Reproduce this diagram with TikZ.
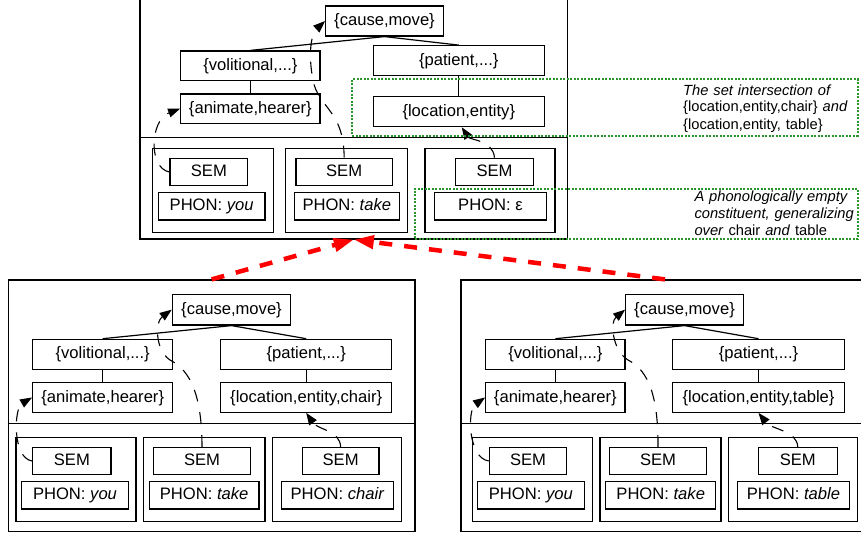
\documentclass[tikz,border=0pt]{standalone}
\usepackage{fontspec}
\setmainfont{Liberation Sans}
\usetikzlibrary{arrows.meta}
\definecolor{dotgreen}{RGB}{40,150,40}
\definecolor{arrowred}{RGB}{255,0,0}
\tikzset{
  bx/.style={draw=black, line width=1.2pt, inner sep=0pt, font=\fontsize{16.6}{20}\selectfont, text height=12.8pt, text depth=3.6pt},
  cont/.style={draw=black, line width=1.2pt, inner sep=0pt},
  treeedge/.style={draw=black, line width=1.2pt},
  link/.style={draw=black, line width=1.1pt, dash pattern=on 12pt off 11pt, -{Triangle[length=12pt,width=9pt]}},
  greenbox/.style={draw=dotgreen, line width=2pt, dash pattern=on 2pt off 1.5pt, inner sep=0pt},
  note/.style={inner sep=0pt, anchor=base west, text width=180pt, align=left, font=\fontsize{14.7}{17}\selectfont},
  bigarrow/.style={draw=arrowred, line width=4.5pt, dash pattern=on 13pt off 12pt, -{Triangle[length=20pt,width=13pt]}}
}
\newcommand\mybox[7][bx]{\node[#1,minimum width={#5-#3},minimum height={#6-#4}] (#2) at ({(#3+#5)/2},{(#4+#6)/2}) {#7};}
\begin{document}
\begin{tikzpicture}[x=1pt,y=-1pt]
\useasboundingbox (0,0) rectangle (861,535);
\clip (0,0) rectangle (861,535);
% ---------- top panel ----------
\mybox[cont]{tPanel}{140}{-2}{567.7}{239}{}
\coordinate (tDiv) at (0,137.3);
\draw[treeedge] (tPanel.west|-tDiv) -- (tPanel.east|-tDiv);
\mybox{tCM}{325.7}{6}{443.3}{36}{\{cause,move\}}
\mybox{tVol}{180.7}{51}{320}{80.7}{\{volitional,...\}}
\mybox{tPat}{373.3}{45.7}{544.3}{75.7}{\{patient,...\}}
\mybox{tAn}{180.7}{94}{320}{123.3}{\{animate,hearer\}}
\mybox{tLoc}{373.3}{96.7}{544.3}{126.7}{\{location,entity\}}
\mybox[cont]{tW1}{152.7}{148.3}{273.3}{232.3}{}
\mybox[cont]{tW2}{285.7}{148.3}{407.3}{232.3}{}
\mybox[cont]{tW3}{425}{148.3}{555}{232.3}{}
\mybox{tS1}{170}{158.3}{247.7}{185.7}{SEM}
\mybox{tP1}{158.3}{192.7}{265}{220}{PHON: \textit{you}}
\mybox{tS2}{296}{158.3}{392.3}{185.7}{SEM}
\mybox{tP2}{294.3}{192.7}{399.3}{220}{PHON: \textit{take}}
\mybox{tS3}{455.7}{158.3}{533.3}{185.7}{SEM}
\mybox{tP3}{434.3}{192.7}{546.7}{220}{PHON: ε}
\draw[treeedge] (tCM.south) -- (tVol.north);
\draw[treeedge] (tCM.south) -- (tPat.north);
\draw[treeedge] (tVol.south) -- (tAn.north);
\draw[treeedge] (tPat.south) -- (tLoc.north);
% ---------- bottom-left panel ----------
\mybox[cont]{lPanel}{8.3}{280}{415}{531.7}{}
\coordinate (lDiv) at (0,423.3);
\draw[treeedge] (lPanel.west|-lDiv) -- (lPanel.east|-lDiv);
\mybox{lCM}{172.3}{294.3}{290.7}{325}{\{cause,move\}}
\mybox{lVol}{32.7}{339.3}{172.7}{369.3}{\{volitional,...\}}
\mybox{lPat}{220.7}{339.3}{391.7}{369.3}{\{patient,...\}}
\mybox{lAn}{32.7}{382.7}{172.7}{412.3}{\{animate,hearer\}}
\mybox{lLoc}{220.7}{382.7}{391.7}{412.3}{\{location,entity,chair\}}
\mybox[cont]{lW1}{16}{437.3}{136}{521.7}{}
\mybox[cont]{lW2}{143.3}{437.3}{265}{521.7}{}
\mybox[cont]{lW3}{272.7}{437.3}{401.7}{521.7}{}
\mybox{lS1}{32.7}{447.7}{111}{474.3}{SEM}
\mybox{lP1}{21.7}{481.7}{128.3}{509}{PHON: \textit{you}}
\mybox{lS2}{153.3}{447.7}{250.7}{474.3}{SEM}
\mybox{lP2}{149.3}{481.7}{259}{509}{PHON: \textit{take}}
\mybox{lS3}{302.3}{447.7}{379}{474.3}{SEM}
\mybox{lP3}{281.7}{481.7}{393.3}{509}{PHON: \textit{chair}}
\draw[treeedge] (lCM.south) -- (lVol.north);
\draw[treeedge] (lCM.south) -- (lPat.north);
\draw[treeedge] (lVol.south) -- (lAn.north);
\draw[treeedge] (lPat.south) -- (lLoc.north);
% ---------- bottom-right panel ----------
\mybox[cont]{rPanel}{461}{280}{869}{531.7}{}
\coordinate (rDiv) at (0,423.3);
\draw[treeedge] (rPanel.west|-rDiv) -- (rPanel.east|-rDiv);
\mybox{rCM}{625.7}{294.3}{743.3}{325}{\{cause,move\}}
\mybox{rVol}{485.7}{339.3}{625}{369.3}{\{volitional,...\}}
\mybox{rPat}{672.7}{339.3}{844.3}{369.3}{\{patient,...\}}
\mybox{rAn}{485.7}{382.7}{625}{412.3}{\{animate,hearer\}}
\mybox{rLoc}{672.7}{382.7}{844.3}{412.3}{\{location,entity,table\}}
\mybox[cont]{rW1}{472.3}{437.3}{592.3}{521.7}{}
\mybox[cont]{rW2}{600}{437.3}{721}{521.7}{}
\mybox[cont]{rW3}{728.3}{437.3}{857.7}{521.7}{}
\mybox{rS1}{489.3}{447.7}{566.7}{474.3}{SEM}
\mybox{rP1}{477.3}{481.7}{584.3}{509}{PHON: \textit{you}}
\mybox{rS2}{609.3}{447.7}{706.7}{474.3}{SEM}
\mybox{rP2}{605.7}{481.7}{715.7}{509}{PHON: \textit{take}}
\mybox{rS3}{758.3}{447.7}{837.3}{474.3}{SEM}
\mybox{rP3}{737.7}{481.7}{849.3}{509}{PHON: \textit{table}}
\draw[treeedge] (rCM.south) -- (rVol.north);
\draw[treeedge] (rCM.south) -- (rPat.north);
\draw[treeedge] (rVol.south) -- (rAn.north);
\draw[treeedge] (rPat.south) -- (rLoc.north);
% ---------- dashed links ----------
\draw[link] (tS1.west) .. controls (148,168) and (150,120) .. (tAn.west);
\draw[link] (tS2.north) .. controls (344,110) and (318,108) .. (313,80) .. controls (308,55) and (311,34) .. (tCM.west);
\draw[link] (tS3.north) .. controls (493,140) and (470,140) .. ([xshift=3pt]tLoc.south);
\draw[link] (lS1.west) .. controls (12,458) and (14,408) .. (lAn.west);
\draw[link] (lS2.north) .. controls (202,385) and (185,368) .. (170,360) .. controls (155,350) and (155,322) .. (lCM.west);
\draw[link] (lS3.north) .. controls (340,430) and (318,430) .. (lLoc.south);
\draw[link] (rS1.west) .. controls (468,458) and (467,410) .. (rAn.west);
\draw[link] (rS2.north) .. controls (658.5,385) and (643,368) .. (628,360) .. controls (612,350) and (610,322) .. (rCM.west);
\draw[link] (rS3.north) .. controls (797,430) and (772,430) .. (rLoc.south);
% ---------- green annotations ----------
\mybox[greenbox]{g1}{352.3}{79.3}{857.7}{135.5}{}
\mybox[greenbox]{g2}{415}{188.5}{857.7}{239}{}
\node[note] (n1) at (683,95) {\textit{The set intersection of}\\\{location,entity,chair\} \textit{and}\\\{location,entity, table\}};
\node[note] (n2) at (694.3,201.7) {\textit{A phonologically empty}\\\textit{constituent, generalizing}\\\textit{over} chair \textit{and} table};
% ---------- red arrows ----------
\draw[bigarrow] (lPanel.north) -- (tPanel.south);
\draw[bigarrow] (rPanel.north) -- (tPanel.south);
\end{tikzpicture}
\end{document}
